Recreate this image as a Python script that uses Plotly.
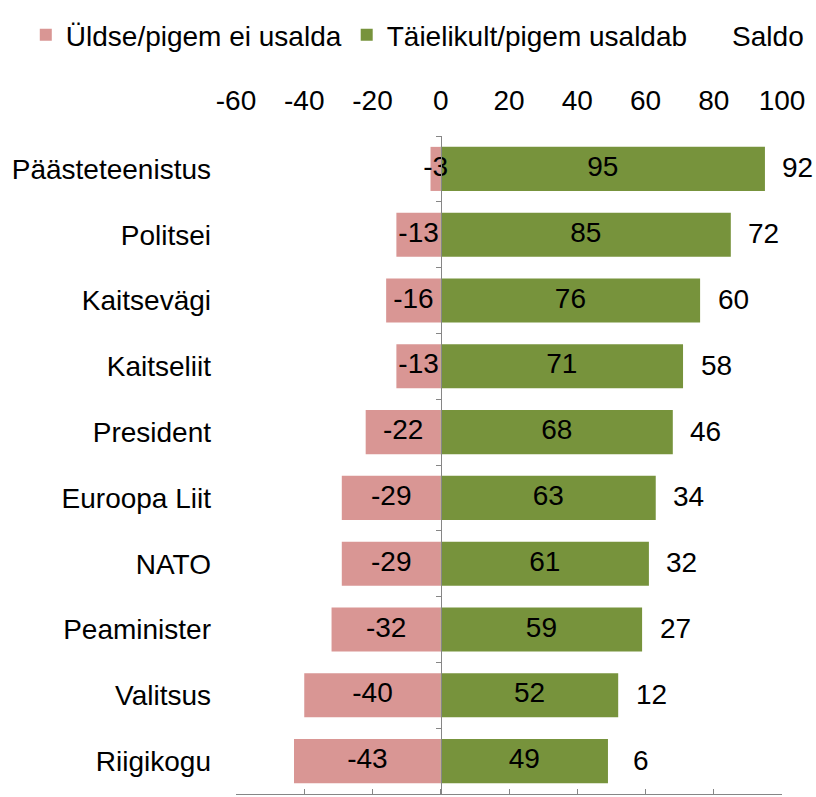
import plotly.graph_objects as go

categories = ["Päästeteenistus", "Politsei", "Kaitsevägi", "Kaitseliit", "President",
              "Euroopa Liit", "NATO", "Peaminister", "Valitsus", "Riigikogu"]
distrust = [-3, -13, -16, -13, -22, -29, -29, -32, -40, -43]
trust = [95, 85, 76, 71, 68, 63, 61, 59, 52, 49]
saldo = [92, 72, 60, 58, 46, 34, 32, 27, 12, 6]
x_ticks = [-60, -40, -20, 0, 20, 40, 60, 80, 100]
x_tick_labels = ["-60", "-40", "-20", "0", "20", "40", "60", "80", "100"]

FONT = "Arial, Liberation Sans, sans-serif"
FS = 28
PINK = "#D99694"
GREEN = "#77933C"
AXIS = "#868686"
X_RANGE = [-60, 100]
SALDO_SHIFT_PX = 33

fig = go.Figure()

fig.add_trace(go.Bar(
    y=categories, x=distrust, orientation="h", name="Üldse/pigem ei usalda",
    marker=dict(color=PINK, line=dict(width=0)), width=0.67,
))
fig.add_trace(go.Bar(
    y=categories, x=trust, orientation="h", name="Täielikult/pigem usaldab",
    marker=dict(color=GREEN, line=dict(width=0)), width=0.67,
))
fig.add_trace(go.Bar(
    y=categories, x=saldo, base=trust, orientation="h", name="Saldo",
    marker=dict(color="rgba(0,0,0,0)", line=dict(width=0)), width=0.67,
    hoverinfo="skip",
))

# value labels
fig.add_trace(go.Scatter(
    y=categories, x=[v / 2 for v in distrust], mode="text",
    text=[str(v) for v in distrust], textposition="middle center",
    textfont=dict(family=FONT, size=FS, color="black"), showlegend=False, hoverinfo="skip",
))
fig.add_trace(go.Scatter(
    y=categories, x=[v / 2 for v in trust], mode="text",
    text=[str(v) for v in trust], textposition="middle center",
    textfont=dict(family=FONT, size=FS, color="black"), showlegend=False, hoverinfo="skip",
))

# saldo labels to the right of the green bars (anchored at the bar end)
for cat, t, s in zip(categories, trust, saldo):
    fig.add_annotation(
        x=t, y=cat, xref="x", yref="y", text=str(s), showarrow=False,
        xanchor="center", yanchor="middle", xshift=SALDO_SHIFT_PX, yshift=1,
        font=dict(family=FONT, size=FS, color="black"),
    )

# helper trace for the overlay axes (bottom tick axis and zero-line category ticks)
fig.add_trace(go.Scatter(
    x=[0], y=[0], xaxis="x2", yaxis="y2", mode="markers",
    marker=dict(opacity=0), showlegend=False, hoverinfo="skip",
))

n = len(categories)
zero_pos = (0 - X_RANGE[0]) / (X_RANGE[1] - X_RANGE[0])

fig.update_layout(
    width=816, height=797,
    margin=dict(l=236, r=34, t=136, b=3),
    paper_bgcolor="white", plot_bgcolor="white",
    barmode="overlay",
    font=dict(family=FONT, size=FS, color="black"),
    showlegend=True,
    legend=dict(
        orientation="h", x=-0.385, xanchor="left", y=1.1535, yanchor="middle",
        font=dict(family=FONT, size=FS, color="black"),
        bgcolor="rgba(0,0,0,0)", traceorder="normal", itemclick=False,
    ),
    xaxis=dict(
        range=X_RANGE, side="top", tickvals=x_ticks, ticktext=x_tick_labels,
        ticks="", showline=False, showgrid=False, zeroline=False, ticklabelstandoff=19,
        tickfont=dict(family=FONT, size=FS, color="black"),
    ),
    xaxis2=dict(
        range=X_RANGE, overlaying="x", side="bottom", anchor="y", tickvals=x_ticks,
        ticks="inside", ticklen=5, tickcolor=AXIS, showline=True, linecolor=AXIS,
        linewidth=1, showticklabels=False, showgrid=False, zeroline=False,
    ),
    yaxis=dict(
        range=[n - 0.5, -0.5], type="category", showline=False, showgrid=False,
        zeroline=False, ticks="", ticklabelstandoff=24,
        tickfont=dict(family=FONT, size=FS, color="black"),
    ),
    yaxis2=dict(
        range=[n - 0.5, -0.5], overlaying="y", anchor="free", position=zero_pos,
        side="left", tickvals=[i - 0.5 for i in range(n + 1)], ticks="outside",
        ticklen=5, tickcolor=AXIS, showline=True, linecolor=AXIS, linewidth=1,
        showticklabels=False, showgrid=False, zeroline=False,
    ),
)

fig.write_html("out.html", config={"displayModeBar": False},
               post_script="document.body.style.margin='0';")
